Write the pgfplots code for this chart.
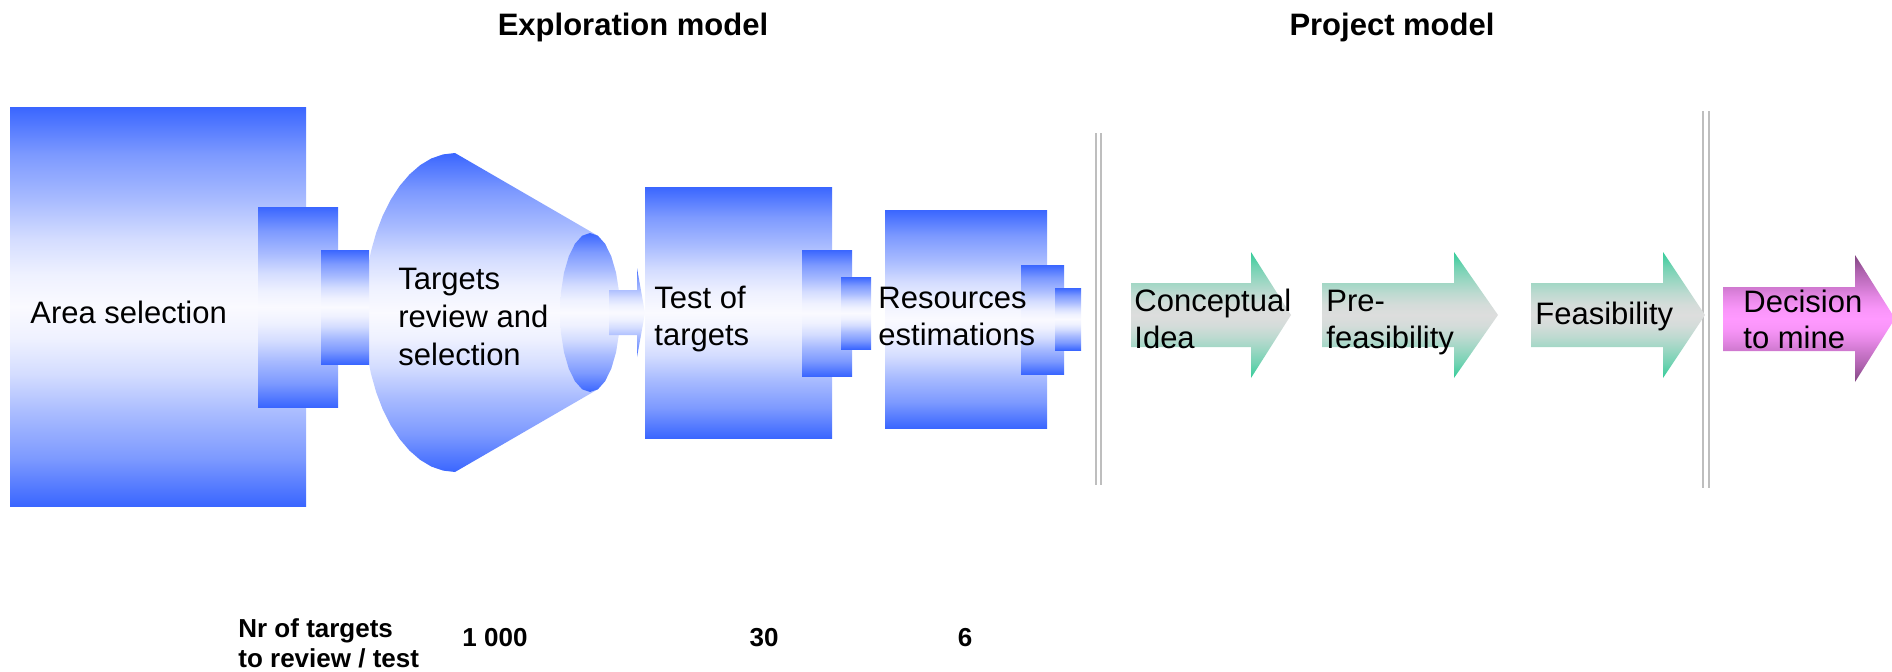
\documentclass[border=0pt]{standalone}
\usepackage{pgfplots}
\pgfplotsset{compat=1.18}
\usepackage{fontspec}
\setmainfont{Liberation Sans}
\definecolor{bl}{RGB}{58,102,255}
\definecolor{wh}{RGB}{250,250,255}
\definecolor{gr}{RGB}{51,204,153}
\definecolor{gy}{RGB}{221,221,221}
\definecolor{pu}{RGB}{128,68,128}
\definecolor{pk}{RGB}{255,153,255}
\definecolor{sep}{RGB}{190,190,190}
\pgfdeclareverticalshading{bsh}{100bp}{color(0bp)=(bl); color(25bp)=(bl); color(31bp)=(bl!65!wh);
  color(36.5bp)=(bl!43!wh); color(41.5bp)=(bl!20!wh); color(46bp)=(bl!6!wh); color(50bp)=(wh);
  color(54bp)=(bl!6!wh); color(58.5bp)=(bl!20!wh); color(63.5bp)=(bl!43!wh); color(69bp)=(bl!65!wh);
  color(75bp)=(bl); color(100bp)=(bl)}
\pgfdeclareverticalshading{gsh}{100bp}{color(0bp)=(gr); color(25bp)=(gr); color(31bp)=(gr!62!gy);
  color(36.5bp)=(gr!38!gy); color(41.5bp)=(gr!18!gy); color(46bp)=(gr!5!gy); color(50bp)=(gy);
  color(54bp)=(gr!5!gy); color(58.5bp)=(gr!18!gy); color(63.5bp)=(gr!38!gy); color(69bp)=(gr!62!gy);
  color(75bp)=(gr); color(100bp)=(gr)}
\pgfdeclareverticalshading{psh}{100bp}{color(0bp)=(pu); color(25bp)=(pu); color(31bp)=(pu!65!pk);
  color(36.5bp)=(pu!42!pk); color(41.5bp)=(pu!20!pk); color(46bp)=(pu!5!pk); color(50bp)=(pk);
  color(54bp)=(pu!5!pk); color(58.5bp)=(pu!20!pk); color(63.5bp)=(pu!42!pk); color(69bp)=(pu!65!pk);
  color(75bp)=(pu); color(100bp)=(pu)}
\tikzset{
  bshade/.style={draw=none, shade, shading=bsh},
  gshade/.style={draw=none, shade, shading=gsh},
  pshade/.style={draw=none, shade, shading=psh},
  txt/.style={anchor=base west, inner sep=0pt, font=\fontsize{15.5}{19}\selectfont},
  btxt/.style={inner sep=0pt, font=\fontsize{13}{15}\selectfont\bfseries},
}
\begin{document}
\begin{tikzpicture}
\begin{axis}[
  scale only axis, width=946pt, height=335.5pt,
  xmin=0, xmax=1892, ymin=0, ymax=671, y dir=reverse,
  axis line style={draw=none}, ticks=none,
]
% Area selection
\addplot[bshade] coordinates {(10,107) (306,107) (306,506) (10,506) (10,107)};
% Cone
\addplot[bshade] coordinates {
(455,153) (597.8,235.7) (605,243.7) (611.2,256.3) (616,272.75) (619,291.9) (620,312.5)
(619,333.1) (616,352.25) (611.2,368.7) (605,381.3) (597.8,389.3) (455,472)
(443.1,470.6) (431.4,466.6) (420.2,459.9) (409.5,450.6) (399.6,439.0) (390.7,425.3)
(382.8,409.6) (376.2,392.25) (370.9,373.5) (367.1,353.8) (364.8,333.3) (364,312.5)
(364.8,291.7) (367.1,271.2) (370.9,251.5) (376.2,232.75) (382.8,215.4) (390.7,199.7)
(399.6,186.0) (409.5,174.4) (420.2,165.1) (431.4,158.4) (443.1,154.4) (455,153)};
% small ellipse
\addplot[bshade] coordinates {
(620,312.5) (619,291.9) (616,272.75) (611.2,256.3) (605,243.7) (597.8,235.7) (590,233)
(582.2,235.7) (575,243.7) (568.8,256.3) (564,272.75) (561,291.9) (560,312.5)
(561,333.1) (564,352.25) (568.8,368.7) (575,381.3) (582.2,389.3) (590,392)
(597.8,389.3) (605,381.3) (611.2,368.7) (616,352.25) (619,333.1) (620,312.5)};
\addplot[bshade] coordinates {(258,207) (338,207) (338,407) (258,407) (258,207)};
\addplot[bshade] coordinates {(321,250) (369,250) (369,364) (321,364) (321,250)};
% small arrow
\addplot[bshade] coordinates {(609,290) (637,290) (637,268) (645,313) (637,357) (637,335) (609,335) (609,290)};
% Test of targets
\addplot[bshade] coordinates {(645,187) (832,187) (832,438) (645,438) (645,187)};
\addplot[bshade] coordinates {(802,250) (852,250) (852,376) (802,376) (802,250)};
\addplot[bshade] coordinates {(841,277) (871,277) (871,349) (841,349) (841,277)};
% Resources
\addplot[bshade] coordinates {(885,210) (1047,210) (1047,428) (885,428) (885,210)};
\addplot[bshade] coordinates {(1021,265) (1064,265) (1064,374) (1021,374) (1021,265)};
\addplot[bshade] coordinates {(1055,288) (1081,288) (1081,350) (1055,350) (1055,288)};
% separators
\addplot[sep, line width=1.3pt] coordinates {(1096,133) (1096,485)};
\addplot[sep, line width=1.3pt] coordinates {(1101,133) (1101,485)};
\addplot[sep, line width=1.3pt] coordinates {(1703,111) (1703,488)};
\addplot[sep, line width=1.3pt] coordinates {(1709,111) (1709,488)};
% project arrows
\addplot[gshade] coordinates {(1131,283) (1251,283) (1251,252) (1291,315) (1251,378) (1251,347) (1131,347) (1131,283)};
\addplot[gshade] coordinates {(1322,283) (1454,283) (1454,252) (1498,315) (1454,378) (1454,347) (1322,347) (1322,283)};
\addplot[gshade] coordinates {(1531,283) (1663,283) (1663,252) (1705,315) (1663,378) (1663,347) (1531,347) (1531,283)};
\addplot[pshade] coordinates {(1723,287) (1855,287) (1855,255) (1895,318.5) (1855,382) (1855,351) (1723,351) (1723,287)};
% texts
\node[txt] at (axis cs:30,323) {Area selection};
\node[txt] at (axis cs:398,289) {Targets};
\node[txt] at (axis cs:398,327) {review and};
\node[txt] at (axis cs:398,365) {selection};
\node[txt] at (axis cs:654,308) {Test of};
\node[txt] at (axis cs:654,345) {targets};
\node[txt] at (axis cs:878,308) {Resources};
\node[txt] at (axis cs:878,345) {estimations};
\node[txt] at (axis cs:1134,311) {Conceptual};
\node[txt] at (axis cs:1134,348) {Idea};
\node[txt] at (axis cs:1326,311) {Pre-};
\node[txt] at (axis cs:1326,348) {feasibility};
\node[txt] at (axis cs:1535,324) {Feasibility};
\node[txt] at (axis cs:1743,312) {Decision};
\node[txt] at (axis cs:1743,348) {to mine};
\node[inner sep=0pt, anchor=base, font=\fontsize{15.5}{19}\selectfont\bfseries] at (axis cs:633,35) {Exploration model};
\node[inner sep=0pt, anchor=base, font=\fontsize{15.5}{19}\selectfont\bfseries] at (axis cs:1392,35) {Project model};
\node[btxt, anchor=base west] at (axis cs:238,637) {Nr of targets};
\node[btxt, anchor=base west] at (axis cs:238,667) {to review / test};
\node[btxt, anchor=base] at (axis cs:495,646) {1 000};
\node[btxt, anchor=base] at (axis cs:764,646) {30};
\node[btxt, anchor=base] at (axis cs:965,646) {6};
\end{axis}
\end{tikzpicture}
\end{document}
